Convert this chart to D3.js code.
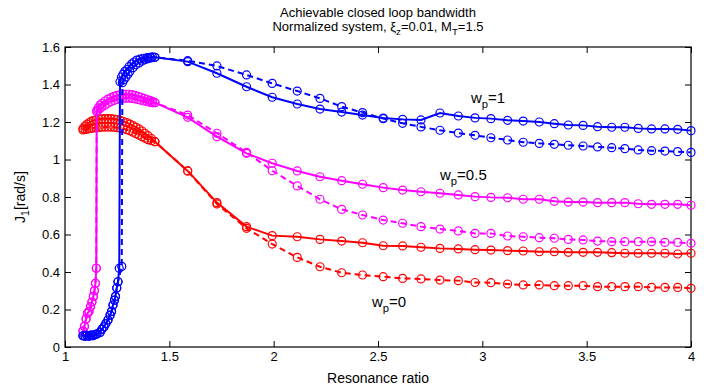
<!DOCTYPE html>
<html>
<head>
<meta charset="utf-8">
<script src="https://cdn.jsdelivr.net/npm/d3@7"></script>
<style>
  body { margin: 0; background: #fff; }
  text { font-family: "Liberation Sans", Arial, Helvetica, sans-serif; fill: #000; }
</style>
</head>
<body>
<svg id="chart" width="710" height="390"></svg>
<script>
// shared resonance-ratio samples of the right-hand part of every curve
var xTail = [1.588, 1.728, 1.870, 1.993, 2.113, 2.222, 2.326, 2.426, 2.525, 2.618, 2.706, 2.797, 2.885, 2.965,
  3.041, 3.121, 3.196, 3.273, 3.345, 3.412, 3.483, 3.552, 3.620, 3.683, 3.747, 3.811, 3.875, 3.936, 4.0];

// w_p = 1 (blue)
var blueLowX = [1.086, 1.096, 1.105, 1.115, 1.125, 1.134, 1.144, 1.153, 1.168, 1.177, 1.187, 1.196, 1.206, 1.216, 1.223, 1.230, 1.237, 1.242, 1.248, 1.254];
var blueLowY = [0.060, 0.058, 0.062, 0.058, 0.063, 0.060, 0.066, 0.070, 0.078, 0.095, 0.108, 0.125, 0.144, 0.170, 0.190, 0.224, 0.250, 0.270, 0.315, 0.348];
var blueSolidHeadX = [1.260, 1.2635, 1.271, 1.278, 1.287, 1.297, 1.307, 1.320, 1.331, 1.344, 1.359, 1.375, 1.393, 1.407, 1.419, 1.431];
var blueSolidHeadY = [0.420, 1.415, 1.440, 1.455, 1.470, 1.480, 1.495, 1.510, 1.520, 1.530, 1.535, 1.540, 1.543, 1.545, 1.547, 1.545];
var blueDashHeadX = [1.272, 1.275, 1.283, 1.292, 1.302, 1.311, 1.326, 1.340, 1.355, 1.369, 1.383, 1.398, 1.412, 1.431];
var blueDashHeadY = [0.430, 1.410, 1.425, 1.440, 1.455, 1.470, 1.490, 1.505, 1.515, 1.525, 1.532, 1.538, 1.542, 1.545];
var blueSolidTail = [1.522, 1.460, 1.388, 1.332, 1.296, 1.269, 1.253, 1.237, 1.221, 1.214, 1.211, 1.248, 1.232, 1.222,
  1.218, 1.209, 1.205, 1.200, 1.191, 1.184, 1.182, 1.175, 1.172, 1.172, 1.166, 1.163, 1.163, 1.161, 1.154];
var blueDashTail = [1.527, 1.499, 1.451, 1.406, 1.365, 1.326, 1.282, 1.250, 1.218, 1.193, 1.174, 1.156, 1.141, 1.129,
  1.116, 1.104, 1.092, 1.086, 1.081, 1.076, 1.072, 1.067, 1.063, 1.058, 1.051, 1.047, 1.045, 1.042, 1.038];

// w_p = 0.5 (magenta)
var magLowX = [1.086, 1.093, 1.101, 1.108, 1.115, 1.122, 1.129, 1.136, 1.141, 1.146, 1.150];
var magLowY = [0.085, 0.110, 0.150, 0.180, 0.190, 0.215, 0.240, 0.270, 0.300, 0.340, 0.420];
var magHeadX = [1.152, 1.158, 1.168, 1.177, 1.192, 1.206, 1.220, 1.235, 1.249, 1.264, 1.278, 1.292, 1.307, 1.321, 1.335, 1.350, 1.364, 1.379, 1.393, 1.407, 1.419, 1.431];
var magSolidHeadY = [1.260, 1.275, 1.290, 1.300, 1.312, 1.322, 1.330, 1.337, 1.342, 1.345, 1.347, 1.348, 1.348, 1.346, 1.342, 1.337, 1.332, 1.326, 1.320, 1.315, 1.310, 1.303];
var magDashHeadY = [1.255, 1.262, 1.272, 1.280, 1.290, 1.300, 1.308, 1.315, 1.320, 1.324, 1.326, 1.327, 1.327, 1.326, 1.323, 1.320, 1.316, 1.312, 1.308, 1.305, 1.303, 1.303];
var magSolidTail = [1.225, 1.122, 1.033, 0.980, 0.939, 0.908, 0.887, 0.868, 0.850, 0.837, 0.828, 0.820, 0.811, 0.802,
  0.798, 0.796, 0.788, 0.788, 0.777, 0.773, 0.773, 0.770, 0.770, 0.770, 0.764, 0.761, 0.761, 0.761, 0.756];
var magDashTail = [1.237, 1.140, 1.038, 0.940, 0.859, 0.788, 0.734, 0.704, 0.677, 0.660, 0.642, 0.629, 0.619, 0.606,
  0.606, 0.592, 0.588, 0.583, 0.580, 0.574, 0.571, 0.565, 0.562, 0.562, 0.562, 0.562, 0.558, 0.558, 0.553];

// w_p = 0 (red)
var redHeadX = [1.086, 1.096, 1.105, 1.115, 1.125, 1.136, 1.149, 1.163, 1.177, 1.192, 1.206, 1.220, 1.235, 1.249, 1.264, 1.278, 1.296, 1.311, 1.326, 1.340, 1.355, 1.369, 1.383, 1.398, 1.414, 1.431];
var redSolidHeadY = [1.165, 1.178, 1.188, 1.196, 1.203, 1.208, 1.212, 1.215, 1.217, 1.218, 1.218, 1.218, 1.216, 1.213, 1.209, 1.204, 1.197, 1.189, 1.181, 1.172, 1.163, 1.152, 1.140, 1.127, 1.112, 1.095];
var redDashHeadY = [1.158, 1.160, 1.162, 1.164, 1.166, 1.168, 1.170, 1.171, 1.172, 1.173, 1.173, 1.173, 1.172, 1.170, 1.168, 1.164, 1.159, 1.153, 1.146, 1.138, 1.130, 1.122, 1.114, 1.106, 1.100, 1.095];
var redSolidTail = [0.939, 0.770, 0.642, 0.594, 0.588, 0.574, 0.565, 0.556, 0.540, 0.539, 0.532, 0.526, 0.523, 0.519,
  0.517, 0.514, 0.512, 0.508, 0.508, 0.505, 0.505, 0.505, 0.503, 0.500, 0.500, 0.500, 0.500, 0.496, 0.500];
var redDashTail = [0.939, 0.763, 0.633, 0.549, 0.478, 0.428, 0.396, 0.384, 0.375, 0.366, 0.363, 0.357, 0.354, 0.344,
  0.343, 0.336, 0.331, 0.331, 0.327, 0.327, 0.327, 0.322, 0.322, 0.322, 0.322, 0.318, 0.318, 0.318, 0.313];

var xTicks = [1, 1.5, 2, 2.5, 3, 3.5, 4];
var yTicks = [0, 0.2, 0.4, 0.6, 0.8, 1, 1.2, 1.4, 1.6];

function zip(xs, ys) {
  return xs.map(function(x, i) { return [x, ys[i]]; });
}

// draw order: red, magenta, blue (blue on top)
var series = [
  { color: "#ff0000", dash: null,  pts: zip(redHeadX.concat(xTail), redSolidHeadY.concat(redSolidTail)) },
  { color: "#ff0000", dash: "6,4", pts: zip(redHeadX.concat(xTail), redDashHeadY.concat(redDashTail)) },
  { color: "#ff00ff", dash: null,  pts: zip(magLowX.concat(magHeadX, xTail), magLowY.concat(magSolidHeadY, magSolidTail)) },
  { color: "#ff00ff", dash: "6,4", pts: zip(magLowX.concat(magHeadX, xTail), magLowY.concat(magDashHeadY, magDashTail)) },
  { color: "#0000ff", dash: null,  pts: zip(blueLowX.concat(blueSolidHeadX, xTail), blueLowY.concat(blueSolidHeadY, blueSolidTail)) },
  { color: "#0000ff", dash: "6,4", pts: zip(blueLowX.concat(blueDashHeadX, xTail), blueLowY.concat(blueDashHeadY, blueDashTail)) }
];

var margin = { left: 65, right: 19, top: 47, bottom: 43 };
var W = 710, H = 390;
var svg = d3.select("#chart");

var x = d3.scaleLinear().domain([1, 4]).range([margin.left, W - margin.right]);
var y = d3.scaleLinear().domain([0, 1.6]).range([H - margin.bottom, margin.top]);

// axes, MATLAB style ticks pointing inward on all four sides
var fmt = d3.format("");
svg.append("g")
  .attr("transform", "translate(0," + y(0) + ")")
  .call(d3.axisBottom(x).tickValues(xTicks).tickFormat(fmt).tickSizeInner(-6).tickSizeOuter(0).tickPadding(5))
  .call(function(g) { g.select(".domain").remove(); });
svg.append("g")
  .attr("transform", "translate(0," + y(1.6) + ")")
  .call(d3.axisTop(x).tickValues(xTicks).tickFormat("").tickSizeInner(-6).tickSizeOuter(0))
  .call(function(g) { g.select(".domain").remove(); });
svg.append("g")
  .attr("transform", "translate(" + x(1) + ",0)")
  .call(d3.axisLeft(y).tickValues(yTicks).tickFormat(fmt).tickSizeInner(-6).tickSizeOuter(0).tickPadding(5))
  .call(function(g) { g.select(".domain").remove(); });
svg.append("g")
  .attr("transform", "translate(" + x(4) + ",0)")
  .call(d3.axisRight(y).tickValues(yTicks).tickFormat("").tickSizeInner(-6).tickSizeOuter(0))
  .call(function(g) { g.select(".domain").remove(); });

svg.selectAll(".tick line").attr("stroke", "#000").attr("stroke-width", 1);
svg.selectAll(".tick text").attr("font-size", 13).attr("font-family", "Liberation Sans, Arial, sans-serif");

svg.append("rect")
  .attr("x", x(1)).attr("y", y(1.6))
  .attr("width", x(4) - x(1)).attr("height", y(0) - y(1.6))
  .attr("fill", "none").attr("stroke", "#000").attr("stroke-width", 1.2);

var line = d3.line().x(function(d) { return x(d[0]); }).y(function(d) { return y(d[1]); });

var plot = svg.append("g");
series.forEach(function(s) {
  var g = plot.append("g");
  g.append("path")
    .attr("d", line(s.pts))
    .attr("fill", "none")
    .attr("stroke", s.color)
    .attr("stroke-width", 2)
    .attr("stroke-dasharray", s.dash);
  g.selectAll("circle").data(s.pts).enter()
    .append("circle")
    .attr("cx", function(d) { return x(d[0]); })
    .attr("cy", function(d) { return y(d[1]); })
    .attr("r", 4)
    .attr("fill", "none")
    .attr("stroke", s.color)
    .attr("stroke-width", 1.2);
});

// text with subscripts
function subText(sel, parts, size) {
  parts.forEach(function(p) {
    var t = sel.append("tspan").text(p[0]);
    if (p[1] === "sub") t.attr("font-size", size * 0.75).attr("dy", size * 0.3);
    if (p[1] === "back") t.attr("dy", -size * 0.3);
  });
}

var t1 = svg.append("text").attr("x", 378).attr("y", 17).attr("text-anchor", "middle").attr("font-size", 13);
t1.text("Achievable closed loop bandwidth");
var t2 = svg.append("text").attr("x", 378).attr("y", 31).attr("text-anchor", "middle").attr("font-size", 13);
subText(t2, [["Normalized system, \u03be"], ["z", "sub"], ["=0.01, M", "back"], ["T", "sub"], ["=1.5", "back"]], 13);

svg.append("text").attr("x", 378).attr("y", 383).attr("text-anchor", "middle").attr("font-size", 14)
  .text("Resonance ratio");

var yl = svg.append("text")
  .attr("transform", "translate(25," + ((y(0) + y(1.6)) / 2) + ") rotate(-90)")
  .attr("text-anchor", "middle").attr("font-size", 14);
subText(yl, [["J"], ["1", "sub"], ["[rad/s]", "back"]], 14);

var labels = [
  { x: 471, y: 103, v: "=1" },
  { x: 440, y: 180, v: "=0.5" },
  { x: 372, y: 307, v: "=0" }
];
labels.forEach(function(l) {
  var t = svg.append("text").attr("x", l.x).attr("y", l.y).attr("font-size", 15);
  subText(t, [["w"], ["p", "sub"], [l.v, "back"]], 15);
});
</script>
</body>
</html>
